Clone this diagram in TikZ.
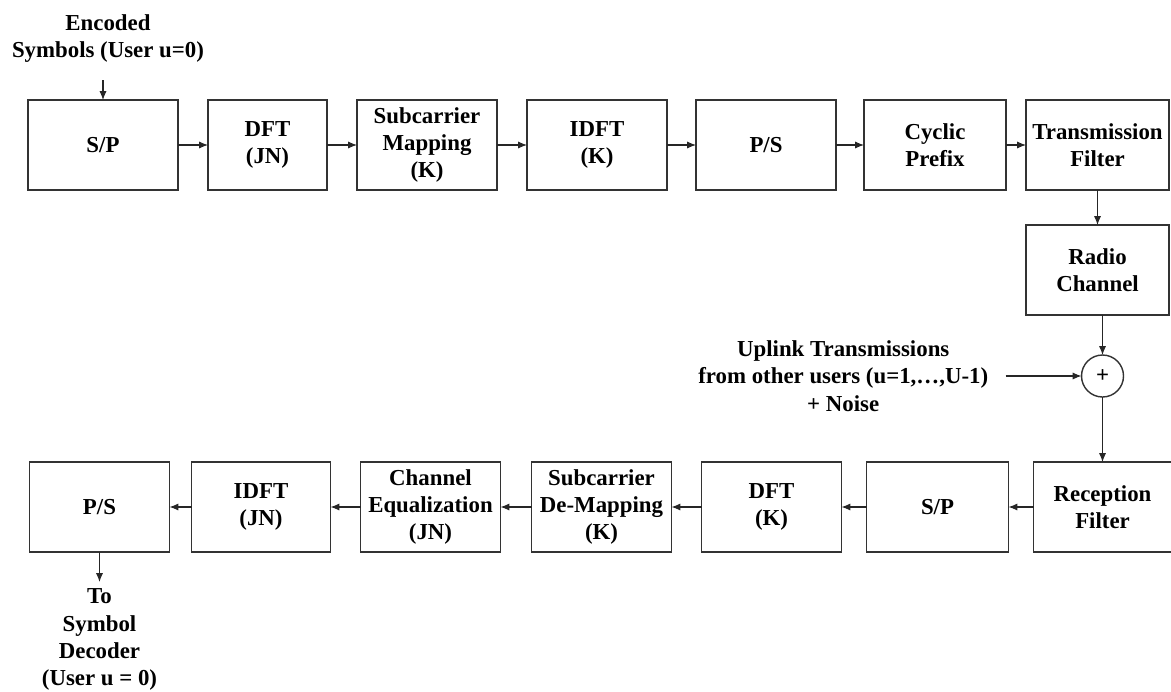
\documentclass[tikz,border=0pt]{standalone}
\usepackage{fontspec}
\setmainfont{Liberation Serif}
\usepackage{tikz}
\usetikzlibrary{positioning,arrows.meta}

\begin{document}
\begin{tikzpicture}[node distance=0.6cm, every node/.style={font=\fontsize{13}{15.5}\selectfont\bfseries},
    blk/.style={draw=black!80, line width=0.9pt, rectangle, minimum width=2.8cm, minimum height=1.8cm, align=center, inner sep=1pt, outer sep=0pt},
    sumnode/.style={draw=black!80, line width=0.8pt, circle, minimum size=0.84cm, inner sep=0pt, outer sep=0pt},
    lbl/.style={align=center, inner sep=0pt},
    arr/.style={-{Latex[length=5pt,width=4pt]}, line width=0.6pt, black!85}]
    \useasboundingbox (0,0) rectangle (23.42,-13.82);

    % Transmitter (user u=0)
    \node[blk, minimum width=3cm] (sp1) at (2.06,-2.9) {S/P};
    \node[blk, minimum width=2.38cm, right=of sp1] (dft1) {DFT\\(JN)};
    \node[blk, right=of dft1] (map) {Subcarrier\\Mapping\\(K)};
    \node[blk, right=of map] (idft1) {IDFT\\(K)};
    \node[blk, right=0.58cm of idft1] (ps1) {P/S};
    \node[blk, minimum width=2.84cm, right=0.56cm of ps1] (cp) {Cyclic\\Prefix};
    \node[blk, minimum width=2.86cm, right=0.4cm of cp] (txf) {Transmission\\Filter};
    \draw[arr] (sp1) -- (dft1);
    \draw[arr] (dft1) -- (map);
    \draw[arr] (map) -- (idft1);
    \draw[arr] (idft1) -- (ps1);
    \draw[arr] (ps1) -- (cp);
    \draw[arr] (cp) -- (txf);

    \coordinate[above=0.4cm of sp1] (enc);
    \node[lbl, above=0.34cm of enc, xshift=0.1cm] (enc-label) {Encoded\\Symbols (User u=0)};
    \draw[arr] (enc) -- (sp1);

    % Channel + other users
    \node[blk, minimum width=2.86cm, below=0.7cm of txf] (chan) {Radio\\Channel};
    \node[sumnode, below=0.8cm of chan, xshift=0.1cm] (sum) {+};
    \coordinate[left=1.52cm of sum] (ul);
    \node[lbl, left=0.34cm of ul] (ul-label) {Uplink Transmissions\\from other users (u=1,\ldots,U-1)\\+ Noise};
    \draw[arr] (txf) -- (chan);
    \draw[arr] (chan.south -| sum) -- (sum);
    \draw[arr] (ul) -- (sum);

    % Receiver
    \node[blk, minimum width=2.76cm, below=1.3cm of sum] (rxf) {Reception\\Filter};
    \node[blk, minimum width=2.84cm, left=0.5cm of rxf] (sp2) {S/P};
    \node[blk, left=0.5cm of sp2] (dft2) {DFT\\(K)};
    \node[blk, left=of dft2] (demap) {Subcarrier\\De-Mapping\\(K)};
    \node[blk, left=0.62cm of demap] (eq) {Channel\\Equalization\\(JN)};
    \node[blk, minimum width=2.78cm, left=of eq] (idft2) {IDFT\\(JN)};
    \node[blk, left=0.44cm of idft2] (ps2) {P/S};
    \draw[arr] (sum) -- (rxf);
    \draw[arr] (rxf) -- (sp2);
    \draw[arr] (sp2) -- (dft2);
    \draw[arr] (dft2) -- (demap);
    \draw[arr] (demap) -- (eq);
    \draw[arr] (eq) -- (idft2);
    \draw[arr] (idft2) -- (ps2);

    \coordinate[below=0.6cm of ps2] (dec);
    \node[lbl, below=0.13cm of dec] (dec-label) {To\\Symbol\\Decoder\\(User u = 0)};
    \draw[arr] (ps2) -- (dec);
\end{tikzpicture}
\end{document}
